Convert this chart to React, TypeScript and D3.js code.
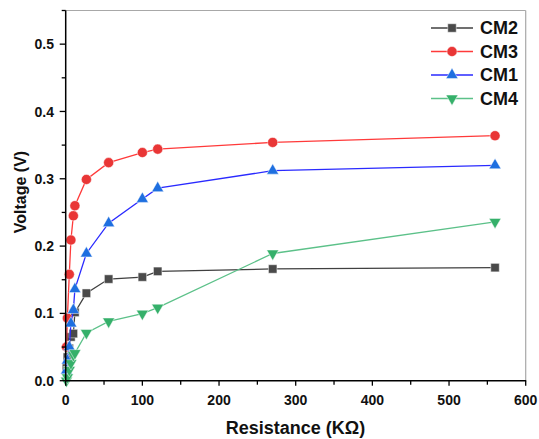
import React from "react";
import * as d3 from "d3";

const resistance = [1, 2.2, 4.7, 6.8, 10, 12, 27, 56, 100, 120, 270, 560];
const cm2 = [0.02, 0.035, 0.048, 0.065, 0.07, 0.1015, 0.13, 0.151, 0.154, 0.1625, 0.166, 0.168];
const cm3 = [0.05, 0.093, 0.158, 0.209, 0.245, 0.26, 0.299, 0.324, 0.339, 0.344, 0.354, 0.364];
const cm1 = [0.015, 0.03, 0.05, 0.085, 0.105, 0.136, 0.189, 0.234, 0.27, 0.286, 0.312, 0.32];
const cm4 = [0.0, 0.005, 0.016, 0.026, 0.038, 0.041, 0.071, 0.088, 0.0996, 0.1085, 0.189, 0.236];
const seriesNames = ["CM2", "CM3", "CM1", "CM4"];
const xTicks = [0, 100, 200, 300, 400, 500, 600];
const yTicks = [0, 0.1, 0.2, 0.3, 0.4, 0.5];

const W = 539, H = 439;
const FONT = "'Liberation Sans', Arial, Helvetica, sans-serif";

const styles = [
  { line: "#404040", fill: "#4a4a4a", sym: d3.symbolSquare, size: 72, rot: 0 },
  { line: "#ff3a3a", fill: "#e93636", sym: d3.symbolCircle, size: 80, rot: 0 },
  { line: "#2a2aff", fill: "#1e6fe0", sym: d3.symbolTriangle, size: 62, rot: 0 },
  { line: "#5cc189", fill: "#35b06a", sym: d3.symbolTriangle, size: 62, rot: 180 },
];

export default function App() {
  const x = d3.scaleLinear().domain([0, 600]).range([65.7, 525.7]);
  const y = d3.scaleLinear().domain([0, 0.55]).range([380.7, 10.5]);
  const data = [cm2, cm3, cm1, cm4];
  const line = d3
    .line<number>()
    .x((_, i) => x(resistance[i]))
    .y((d) => y(d));
  const minorX = d3.range(0, 601, 50);
  const minorY = d3.range(0, 0.551, 0.05);
  const [x0, x1] = x.range();
  const [y0, y1] = y.range();

  return (
    <svg
      width={W}
      height={H}
      style={{ position: "absolute", left: 0, top: 0, background: "#fff" }}
      fontFamily={FONT}
    >
      <rect x={0} y={0} width={W} height={H} fill="#fff" />
      {/* frame top/right */}
      <line x1={x0} x2={x1} y1={y1} y2={y1} stroke="#a8a8a8" strokeWidth={1.2} />
      <line x1={x1} x2={x1} y1={y1} y2={y0} stroke="#a8a8a8" strokeWidth={1.2} />

      {/* series */}
      {data.map((vals, si) => (
        <g key={seriesNames[si]}>
          <path d={line(vals) || ""} fill="none" stroke={styles[si].line} strokeWidth={1.3} />
          {vals.map((v, i) => (
            <path
              key={i}
              d={d3.symbol().type(styles[si].sym).size(styles[si].size)() || ""}
              transform={`translate(${x(resistance[i])},${y(v)}) rotate(${styles[si].rot})`}
              fill={styles[si].fill}
              stroke="#ffffff"
              strokeOpacity={0.6}
              strokeWidth={0.8}
            />
          ))}
        </g>
      ))}

      {/* axes */}
      <line x1={x0} x2={x1 + 0.5} y1={y0} y2={y0} stroke="#000" strokeWidth={1.5} />
      <line x1={x0} x2={x0} y1={y0} y2={y1} stroke="#000" strokeWidth={1.5} />
      {minorX.map((t) => (
        <line key={"mx" + t} x1={x(t)} x2={x(t)} y1={y0} y2={y0 + (t % 100 === 0 ? 5 : 4)} stroke="#000" strokeWidth={1.3} />
      ))}
      {minorY.map((t) => {
        const major = Math.abs(t * 10 - Math.round(t * 10)) < 1e-6;
        return (
          <line key={"my" + t} x1={x0 - (major ? 6 : 4)} x2={x0} y1={y(t)} y2={y(t)} stroke="#000" strokeWidth={1.3} />
        );
      })}
      {xTicks.map((t) => (
        <text key={"xt" + t} x={x(t)} y={405} textAnchor="middle" fontSize={14} fontWeight="bold" fill="#111">
          {t}
        </text>
      ))}
      {yTicks.map((t) => (
        <text key={"yt" + t} x={54} y={y(t)} dy="0.36em" textAnchor="end" fontSize={14} fontWeight="bold" fill="#111">
          {d3.format(".1f")(t)}
        </text>
      ))}
      <text x={295.5} y={433.5} textAnchor="middle" fontSize={18} fontWeight="bold" fill="#111">
        Resistance (KΩ)
      </text>
      <text
        transform="translate(26,192) rotate(-90)"
        textAnchor="middle"
        fontSize={16}
        fontWeight="bold"
        fill="#111"
      >
        Voltage (V)
      </text>

      {/* legend */}
      {seriesNames.map((name, si) => {
        const ly = 28 + si * 23.5;
        return (
          <g key={"lg" + name}>
            <line x1={431} x2={473} y1={ly} y2={ly} stroke={styles[si].line} strokeWidth={1.3} />
            <path
              d={d3.symbol().type(styles[si].sym).size(styles[si].size)() || ""}
              transform={`translate(452,${ly}) rotate(${styles[si].rot})`}
              fill={styles[si].fill}
              stroke="#fff"
              strokeOpacity={0.6}
              strokeWidth={0.8}
            />
            <text x={480} y={ly} dy="0.36em" fontSize={18} fontWeight="bold" fill="#111">
              {name}
            </text>
          </g>
        );
      })}
    </svg>
  );
}
